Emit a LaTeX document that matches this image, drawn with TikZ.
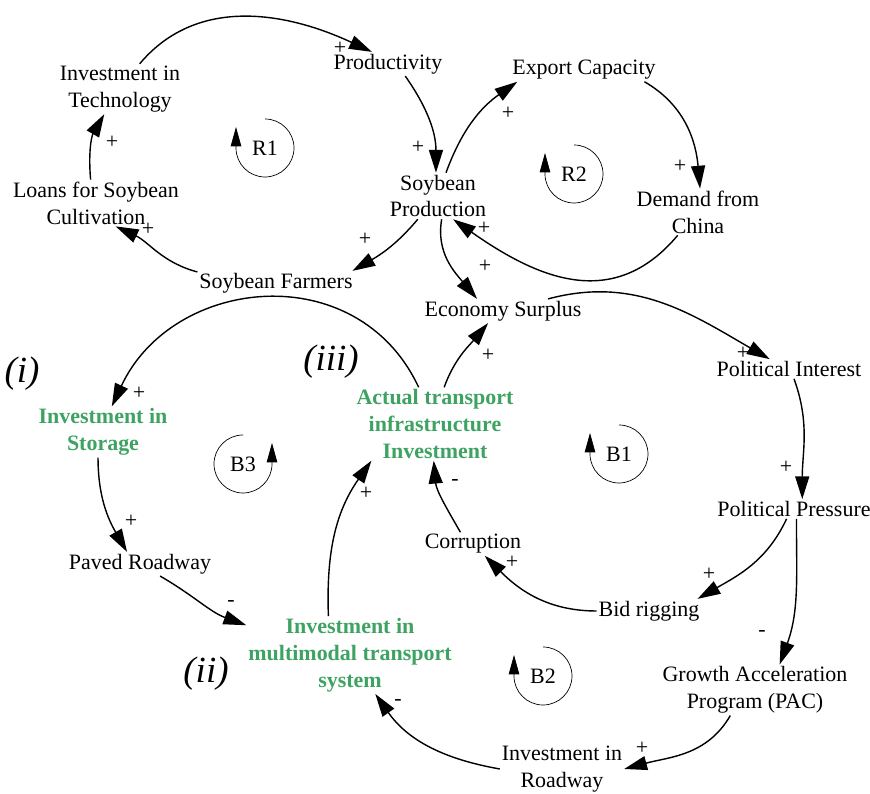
\documentclass[tikz,border=0pt]{standalone}
\usepackage{fontspec}
\setmainfont{Liberation Serif}
\usetikzlibrary{arrows.meta}
\definecolor{keygreen}{RGB}{62,163,98}

\begin{document}
\begin{tikzpicture}[x=0.02cm,y=0.02cm,
    var/.style={align=center,inner sep=1pt,font=\fontsize{12.5}{15.3}\selectfont},
    keyvar/.style={var,text=keygreen,font=\fontsize{12.5}{15.3}\selectfont\bfseries},
    polar/.style={inner sep=0pt,font=\fontsize{12.5}{15}\selectfont},
    tag/.style={inner sep=0pt,font=\fontsize{21}{24}\selectfont\itshape},
    link/.style={line width=0.8pt,-{Triangle[length=13pt,width=8pt]}},
    looparrow/.style={line width=0.4pt,-{Triangle[length=11pt,width=6pt]}}]
                \useasboundingbox (0,0) rectangle (870,794);

                % variables
                \node[var] (invtech) at (120,705) {Investment in\\Technology};
                \node[var] (prod) at (388,730) {Productivity};
                \node[var] (export) at (584,724) {Export Capacity};
                \node[var] (loans) at (96,591) {Loans for Soybean\\Cultivation};
                \node[var] (soyprod) at (438,598) {Soybean\\Production};
                \node[var] (demand) at (698,582) {Demand from\\China};
                \node[var] (farmers) at (276,511) {Soybean Farmers};
                \node[var] (surplus) at (503,483) {Economy Surplus};
                \node[keyvar] (actual) at (435,370) {Actual transport\\infrastructure\\Investment};
                \node[keyvar] (storage) at (103,362) {Investment in\\Storage};
                \node[var] (polint) at (789,425) {Political Interest};
                \node[var] (polpress) at (794,285) {Political Pressure};
                \node[var] (corrupt) at (473,250) {Corruption};
                \node[var] (paved) at (140,230) {Paved Roadway};
                \node[var] (bid) at (649,183) {Bid rigging};
                \node[keyvar] (multi) at (350,139) {Investment in\\multimodal transport\\system};
                \node[var] (gap) at (755,104) {Growth Acceleration\\Program (PAC)};
                \node[var] (invroad) at (562,25) {Investment in\\Roadway};

                % tags
                \node[tag] (tagi) at (22,420) {(i)};
                \node[tag] (tagiii) at (331,432) {(iii)};
                \node[tag] (tagii) at (206,120) {(ii)};

                % loops
                \node[var] (r1) at (265,646) {R1};
                \node[var] (r2) at (574,620) {R2};
                \node[var] (b3) at (243,330) {B3};
                \node[var] (b1) at (619,340) {B1};
                \node[var] (b2) at (543,118) {B2};
                \draw[looparrow] ([shift={(90:29)}]r1.center) arc[start angle=90,end angle=-180,radius=29] -- ++(0,21);
                \draw[looparrow] ([shift={(90:29)}]r2.center) arc[start angle=90,end angle=-180,radius=29] -- ++(0,21);
                \draw[looparrow] ([shift={(90:29)}]b3.center) arc[start angle=90,end angle=360,radius=29] -- ++(0,21);
                \draw[looparrow] ([shift={(90:29)}]b1.center) arc[start angle=90,end angle=-180,radius=29] -- ++(0,21);
                \draw[looparrow] ([shift={(90:29)}]b2.center) arc[start angle=90,end angle=-180,radius=29] -- ++(0,21);

                % links
                \draw[link] (invtech.52) to[out=50,in=155] (prod.143);
                \draw[link] (prod.-35) to[out=-55,in=90] (soyprod.95);
                \draw[link] (soyprod.71) to[out=70,in=215] (export.190);
                \draw[link] (export.-11) to[out=-30,in=95] (demand.85);
                \draw[link] (demand.-131) to[out=-130,in=-35,looseness=1.15] (soyprod.-57);
                \draw[link] (soyprod.-131) to[out=-130,in=30] (farmers.9);
                \draw[link] (farmers.172) to[out=165,in=-25] (loans.-50);
                \draw[link] (loans.103) to[out=95,in=240] (invtech.-122);
                \draw[link] (soyprod.-81) to[out=-100,in=130] (surplus.155);
                \draw[link] (surplus.15) to[out=15,in=150] (polint.153);
                \draw[link] (actual.76) to[out=70,in=230] (surplus.-141);
                \draw[link] (actual.114) to[out=115,in=65,looseness=1.2] (storage.71);
                \draw[link] (storage.-101) to[out=-90,in=120] (paved.137);
                \draw[link] (paved.-31) to[out=-30,in=160] (multi.164);
                \draw[link] (multi.119) to[out=92,in=235] (actual.-150);
                \draw[link] (corrupt.137) to[out=120,in=-85] (actual.-92);
                \draw[link] (bid.west) to[out=180,in=-45] (corrupt.-45);
                \draw[link] (polpress.-127) to[out=-115,in=30] (bid.14);
                \draw[link] (polint.-63) to[out=-70,in=90] (polpress.50);
                \draw[link] (polpress.-76) to[out=-90,in=70] (gap.46);
                \draw[link] (gap.-134) to[out=-120,in=15] (invroad.east);
                \draw[link] (invroad.west) to[out=170,in=-55] (multi.-57);

                % polarities
                \node[polar] (p1) at (340,746) {+};
                \node[polar] (p2) at (418,647) {+};
                \node[polar] (p3) at (508,681) {+};
                \node[polar] (p4) at (680,628) {+};
                \node[polar] (p5) at (484,566) {+};
                \node[polar] (p6) at (365,555) {+};
                \node[polar] (p7) at (148,565) {+};
                \node[polar] (p8) at (112,652) {+};
                \node[polar] (p9) at (485,528) {+};
                \node[polar] (p10) at (743,441) {+};
                \node[polar] (p11) at (488,439) {+};
                \node[polar] (p12) at (139,401) {+};
                \node[polar] (p13) at (131,273) {+};
                \node[polar] (p14) at (231,190) {-};
                \node[polar] (p15) at (366,301) {+};
                \node[polar] (p16) at (455,311) {-};
                \node[polar] (p17) at (512,232) {+};
                \node[polar] (p18) at (709,220) {+};
                \node[polar] (p19) at (786,327) {+};
                \node[polar] (p20) at (762,160) {-};
                \node[polar] (p21) at (642,46) {+};
                \node[polar] (p22) at (398,91) {-};
            \end{tikzpicture}
\end{document}
